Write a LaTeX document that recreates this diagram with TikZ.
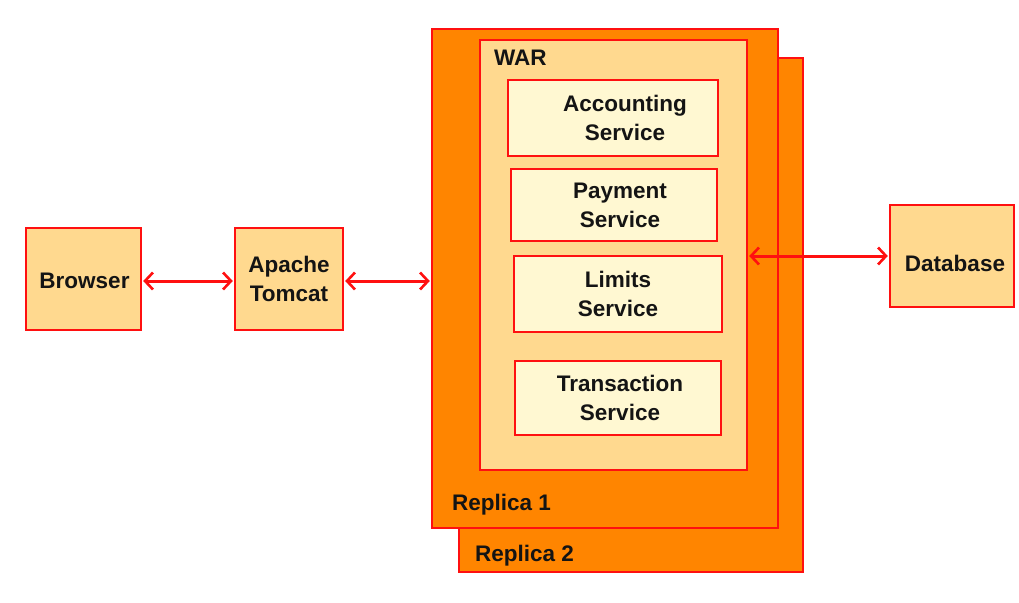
\documentclass[tikz,border=0pt]{standalone}
\usepackage{fontspec}
\setmainfont{Liberation Sans}
\usetikzlibrary{arrows.meta}
\definecolor{boxred}{HTML}{FF1010}
\definecolor{orangeF}{HTML}{FF8500}
\definecolor{lightF}{HTML}{FFD98F}
\definecolor{creamF}{HTML}{FFF8D2}
\definecolor{txt}{HTML}{141414}
\tikzset{
  bx/.style={draw=boxred, line width=2.4pt, inner sep=0pt, text=txt, font=\bfseries\fontsize{22.5}{29}\selectfont, align=center},
  outerbox/.style={bx, fill=lightF},
  repbox/.style={bx, fill=orangeF},
  warbox/.style={bx, fill=lightF},
  svcbox/.style={bx, fill=creamF},
  lbl/.style={text=txt, font=\bfseries\fontsize{22.5}{26}\selectfont, inner sep=0pt, anchor=base west},
  conn/.style={draw=boxred, line width=3pt, {Straight Barb[length=8pt,width=17pt,line width=2.6pt]}-{Straight Barb[length=8pt,width=17pt,line width=2.6pt]}, shorten <=1pt, shorten >=1pt}
}
\begin{document}
\begin{tikzpicture}[x=1pt,y=-1pt]
\useasboundingbox (0,0) rectangle (1019,602);
% Replica 2 (back)
\node[repbox, minimum width=344pt, minimum height=514pt] (rep2) at (631,315) {};
\node[lbl] (rep2l) at (475,561) {Replica 2};
% Replica 1
\node[repbox, minimum width=346pt, minimum height=499pt] (rep1) at (605,278.5) {};
\node[lbl] (rep1l) at (452,510) {Replica 1};
% WAR
\node[warbox, minimum width=267pt, minimum height=430pt] (war) at (613.5,255) {};
\node[lbl] (warl) at (494,66) {WAR};
% services
\node[svcbox, minimum width=210pt, minimum height=76pt] (acc) at (613,118) {};
\node[svcbox, minimum width=206pt, minimum height=72pt] (pay) at (614,205) {};
\node[svcbox, minimum width=208pt, minimum height=76pt] (lim) at (618,294) {};
\node[svcbox, minimum width=206pt, minimum height=74pt] (tra) at (618,398) {};
\node[bx, draw=none] (acct) at ([xshift=12pt]acc.center) {Accounting\\Service};
\node[bx, draw=none] (payt) at ([xshift=6pt]pay.center) {Payment\\Service};
\node[bx, draw=none] (limt) at ([xshift=0pt]lim.center) {Limits\\Service};
\node[bx, draw=none] (trat) at ([xshift=2pt]tra.center) {Transaction\\Service};
% left boxes
\node[outerbox, minimum width=115pt, minimum height=102pt] (browser) at (83.5,279) {};
\node[bx, draw=none] (browsert) at ([xshift=1pt, yshift=-2pt]browser.center) {Browser};
\node[outerbox, minimum width=108pt, minimum height=102pt] (tomcat) at (289,279) {Apache\\Tomcat};
\node[outerbox, minimum width=124pt, minimum height=102pt] (db) at (952,256) {};
\node[bx, draw=none] (dbt) at ([xshift=3pt, yshift=-7pt]db.center) {Database};
% connectors
\draw[conn] (browser.east |- 0,281) -- (tomcat.west |- 0,281);
\draw[conn] (tomcat.east |- 0,281) -- (rep1.west |- 0,281);
\draw[conn] (war.east |- 0,256) -- (db.west |- 0,256);
\end{tikzpicture}
\end{document}
